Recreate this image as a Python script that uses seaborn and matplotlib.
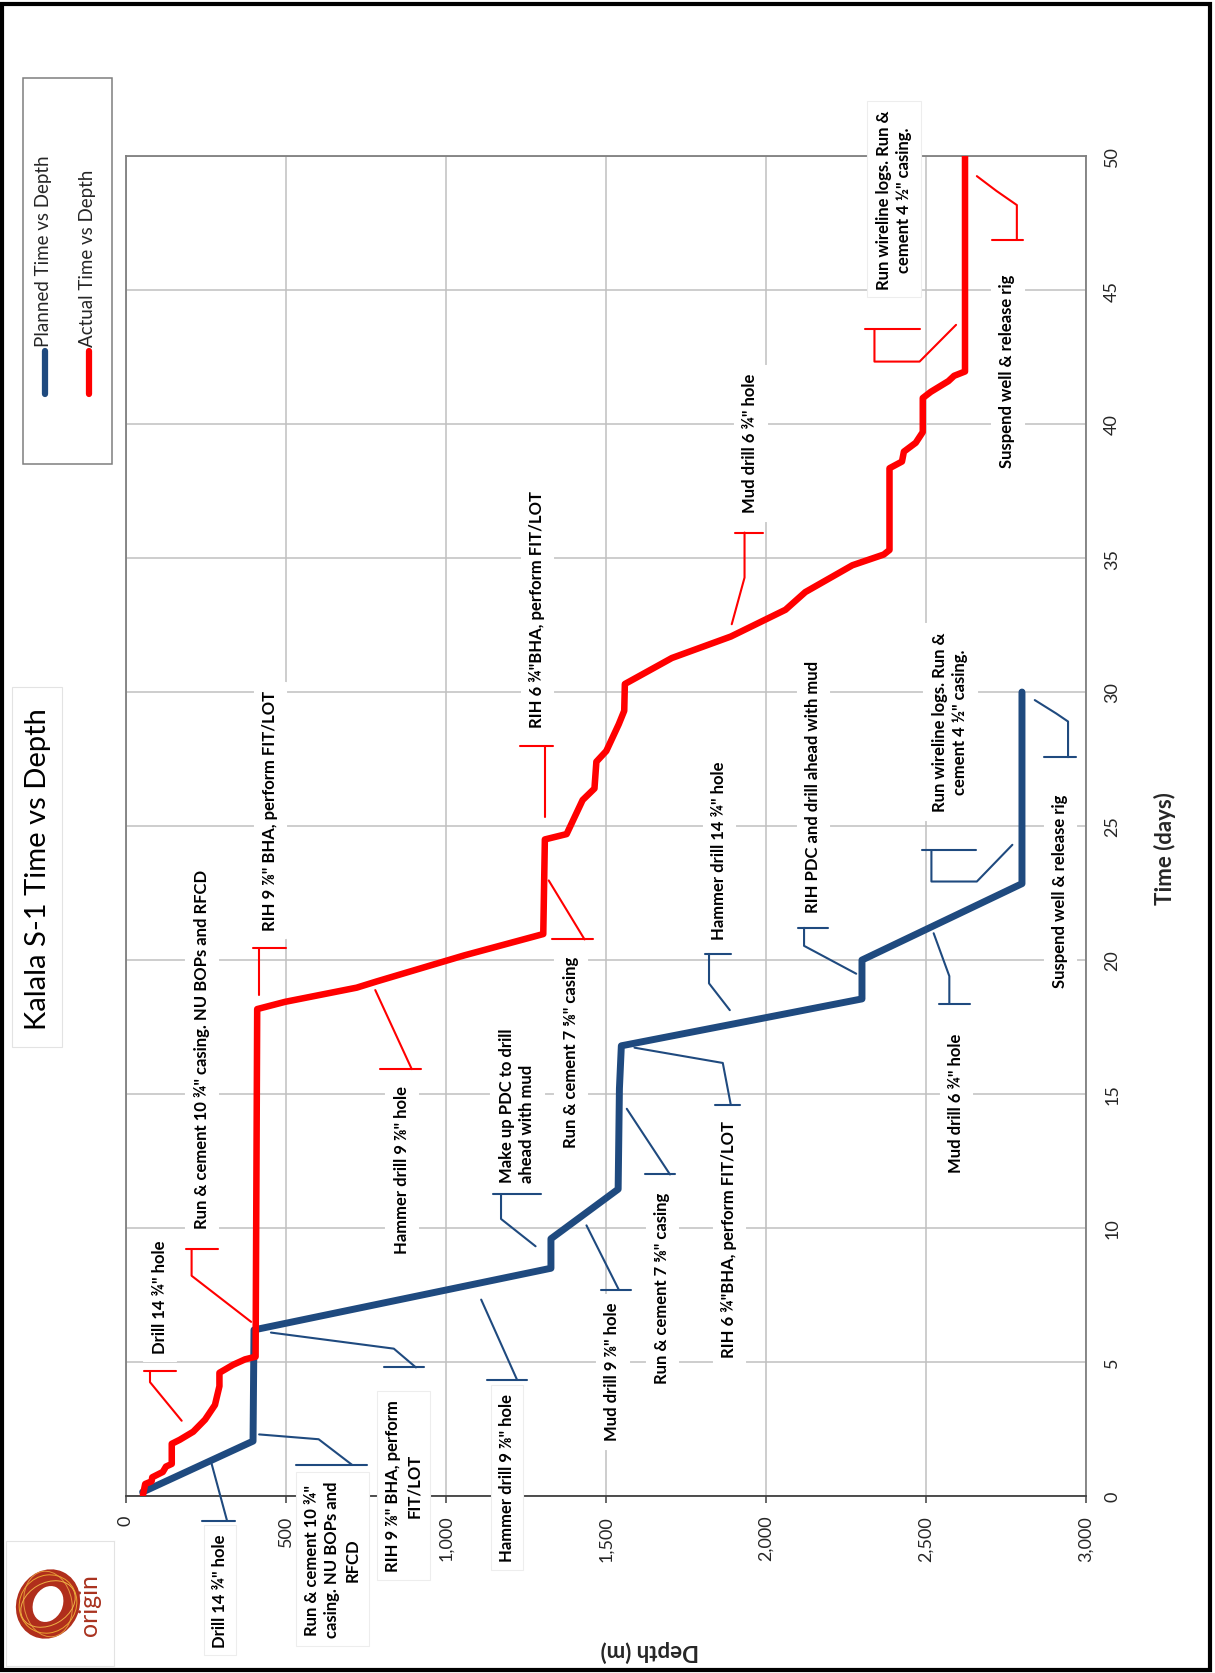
import numpy as np
import pandas as pd
import matplotlib
matplotlib.use("Agg")
import matplotlib.pyplot as plt
import seaborn as sns
from matplotlib.patches import Rectangle, Ellipse
from matplotlib.ticker import FuncFormatter

# ── Data ────────────────────────────────────────────────────────────────────
planned_time = [0.15, 2.05, 6.2, 8.5, 9.6, 11.45, 15.2, 16.8, 18.55, 20.0, 22.85, 30.0]
planned_depth = [52, 397, 400, 1328, 1328, 1538, 1542, 1548, 2300, 2300, 2800, 2800]

actual_time = [0.04, 0.45, 0.55, 0.7, 0.9, 1.1, 1.2, 1.95, 2.1, 2.4,
               2.85, 3.4, 4.1, 4.6, 4.9, 5.1, 5.2, 18.17, 18.44, 18.97,
               19.2, 20.17, 20.97, 24.5, 24.7, 25.97, 26.4, 27.4, 27.8, 28.8,
               29.3, 30.3, 31.27, 32.07, 33.07, 33.73, 34.73, 35.13, 35.3, 38.35,
               38.6, 38.97, 39.3, 39.7, 40.97, 41.2, 41.6, 41.8, 41.96, 50.0]
actual_depth = [53, 60, 80, 82, 115, 125, 143, 143, 168, 210,
                247, 278, 292, 292, 335, 372, 405, 410, 497, 721,
                783, 1056, 1304, 1309, 1377, 1427, 1464, 1470, 1501, 1540,
                1557, 1559, 1706, 1890, 2061, 2123, 2270, 2368, 2386, 2386,
                2425, 2431, 2468, 2490, 2490, 2515, 2570, 2588, 2622, 2622]

series_names = ["Planned Time vs Depth", "Actual Time vs Depth"]
depth_ticks = [0, 500, 1000, 1500, 2000, 2500, 3000]
time_ticks = [0, 5, 10, 15, 20, 25, 30, 35, 40, 45, 50]

actual_notes = [
    'Drill 14 ¾" hole',
    'Run & cement 10 ¾" casing. NU BOPs and RFCD',
    'RIH 9 ⅞" BHA, perform FIT/LOT',
    'Hammer drill 9 ⅞" hole',
    'Run & cement 7 ⅝" casing',
    'RIH 6 ¾"BHA, perform FIT/LOT',
    'Mud drill 6 ¾" hole',
    'Run wireline logs. Run &\ncement 4 ½" casing.',
    'Suspend well & release rig',
]
planned_notes = [
    'Drill 14 ¾" hole',
    'Run & cement 10 ¾"\ncasing. NU BOPs and\nRFCD',
    'RIH 9 ⅞" BHA, perform\nFIT/LOT',
    'Hammer drill 9 ⅞" hole',
    'Make up PDC to drill\nahead with mud',
    'Mud drill 9 ⅞" hole',
    'Run & cement 7 ⅝" casing',
    'RIH 6 ¾"BHA, perform FIT/LOT',
    'Hammer drill 14 ¾" hole',
    'RIH PDC and drill ahead with mud',
    'Run wireline logs. Run &\ncement 4 ½" casing.',
    'Suspend well & release rig',
    'Mud drill 6 ¾" hole',
]

# ── Callout layout (depth, time) ────────────────────────────────────────────
actual_layout = [
    ((105, 7.45), [(56, 155)], [(75, 4.66), (75, 4.25), (174, 2.81)], 4.66, "center"),
    ((237, 16.7), [(186, 289)], [(205, 9.2), (205, 8.22), (391, 6.5)], 9.2, "center"),
    ((450, 25.6), [(397, 499)], [(416, 20.44), (416, 18.7)], 20.44, "center"),
    ((862, 12.2), [(794, 921)], [(893, 15.93), (779, 18.88)], 15.93, "center"),
    ((1390, 16.6), [(1330, 1460)], [(1433, 20.77), (1321, 22.97)], 20.77, "center"),
    ((1284, 33.1), [(1231, 1334)], [(1309, 28.0), (1309, 25.33)], 28.0, "center"),
    ((1951, 39.3), [(1902, 1990)], [(1933, 35.95), (1933, 34.27), (1893, 32.53)], 35.95, "center"),
    ((2400, 48.4), [(2309, 2480)], [(2339, 43.53), (2339, 42.33), (2480, 42.33), (2594, 43.7)], 43.53, "center"),
    ((2754, 42.0), [(2705, 2803)], [(2784, 46.87), (2784, 48.17), (2720, 48.7), (2659, 49.25)], 46.87, "center"),
]
planned_layout = [
    ((294, -3.5), [(236, 341)], [(316, -0.93), (267, 1.23)], -0.93, "center"),
    ((645, -2.35), [(531, 754)], [(707, 1.16), (602, 2.12), (416, 2.3)], 1.16, "center"),
    ((868, 0.4), [(806, 931)], [(906, 4.8), (837, 5.5), (453, 6.1)], 4.8, "center"),
    ((1191, 0.7), [(1127, 1253)], [(1222, 4.34), (1110, 7.33)], 4.34, "center"),
    ((1222, 14.6), [(1148, 1297)], [(1172, 11.26), (1172, 10.34), (1280, 9.32)], 11.26, "left"),
    ((1520, 4.66), [(1485, 1577)], [(1540, 7.7), (1439, 10.1)], 7.7, "center"),
    ((1675, 7.8), [(1622, 1716)], [(1700, 12.0), (1565, 14.45)], 12.0, "center"),
    ((1884, 9.6), [(1840, 1920)], [(1890, 14.6), (1865, 16.16), (1589, 16.73)], 14.6, "center"),
    ((1853, 24.1), [(1810, 1890)], [(1822, 20.23), (1822, 19.13), (1887, 18.13)], 20.23, "center"),
    ((2147, 26.5), [(2100, 2194)], [(2119, 21.2), (2119, 20.53), (2282, 19.49)], 21.2, "center"),
    ((2575, 28.9), [(2488, 2656)], [(2517, 24.1), (2517, 22.93), (2659, 22.93), (2770, 24.3)], 24.1, "center"),
    ((2919, 22.6), [(2870, 2968)], [(2944, 27.57), (2944, 28.9), (2907, 29.2), (2840, 29.7)], 27.57, "center"),
    ((2594, 14.7), [(2542, 2637)], [(2573, 18.37), (2573, 19.4), (2524, 21.0)], 18.37, "center"),
]

BLUE = "#1F4A7F"
RED = "#FF0000"
GRID = "#C0C0C0"
FONT = ["Lato", "DejaVu Sans"]

sns.set_theme(style="whitegrid")
plt.rcParams["font.family"] = FONT

fig = plt.figure(figsize=(12.15, 16.74), dpi=100)
ax = fig.add_axes([0.1037, 0.1057, 0.7901, 0.8005])

plan_df = pd.DataFrame({"time": planned_time, "depth": planned_depth})
act_df = pd.DataFrame({"time": actual_time, "depth": actual_depth})

sns.lineplot(data=plan_df, x="depth", y="time", sort=False, estimator=None,
             color=BLUE, lw=5, ax=ax, zorder=3, solid_joinstyle="round",
             solid_capstyle="round")
sns.lineplot(data=act_df, x="depth", y="time", sort=False, estimator=None,
             color=RED, lw=4.7, ax=ax, zorder=3, solid_joinstyle="round",
             solid_capstyle="round")

ax.set_xlim(0, 3000)
ax.set_ylim(0, 50)
ax.set_xticks(depth_ticks)
ax.set_yticks(time_ticks)
ax.xaxis.set_major_formatter(FuncFormatter(lambda v, p: f"{int(v):,}"))
ax.grid(True, color=GRID, lw=1.1)
ax.set_axisbelow(True)
for s in ax.spines.values():
    s.set_color("#7F7F7F")
    s.set_linewidth(1.3)
ax.spines["bottom"].set_color("#404040")

ax.yaxis.tick_right()
ax.tick_params(axis="x", labelrotation=90, labelsize=13, length=5, width=1.1,
               color="#404040", pad=8.5, bottom=True)
ax.tick_params(axis="y", labelrotation=90, labelsize=13, length=0, pad=13)
for lab in ax.get_yticklabels():
    lab.set_va("center")
    lab.set_ha("left")

ax.set_xlabel("Depth (m)", fontsize=16, fontweight="bold", rotation=180)
ax.xaxis.set_label_coords(0.546, -0.107)
ax.set_ylabel("Time (days)", fontsize=16, fontweight="bold", rotation=90)
ax.yaxis.set_label_position("right")
ax.yaxis.set_label_coords(1.082, 0.484)
ax.yaxis.label.set_va("center")


def callout(pos, bar, path, ybar, text, color, ma="center"):
    x0, x1 = bar[0]
    ax.plot([x0, x1], [ybar, ybar], color=color, lw=1.5, clip_on=False, zorder=4)
    ax.plot([p[0] for p in path], [p[1] for p in path], color=color, lw=1.5,
            clip_on=False, zorder=4)
    # labels outside the plot area carry a faint frame, inner ones do not
    edge = "#EDEDED" if (pos[1] < 1 or pos[1] > 47) else "white"
    ax.text(pos[0], pos[1], text, rotation=90, ha="center", va="center",
            fontsize=12, fontweight="bold", multialignment=ma, linespacing=1.35,
            color="black", zorder=6, clip_on=False,
            bbox=dict(boxstyle="square,pad=0.5", facecolor="white",
                      edgecolor=edge, lw=0.8))


for txt, (pos, bar, path, ybar, ma) in zip(actual_notes, actual_layout):
    callout(pos, bar, path, ybar, txt, RED, ma)
for txt, (pos, bar, path, ybar, ma) in zip(planned_notes, planned_layout):
    callout(pos, bar, path, ybar, txt, BLUE, ma)

# ── Page furniture: title, legend, logo, border ─────────────────────────────
W, H = 1215, 1674


def fx(px):
    return px / W


def fy(py):
    return 1 - py / H


fig.patches.append(Rectangle((fx(12), fy(1048)), fx(50), (1048 - 688) / H,
                             transform=fig.transFigure, facecolor="white",
                             edgecolor="#E3E3E3", lw=0.8))
fig.text(fx(38), fy(869), "Kalala S-1 Time vs Depth", rotation=90,
         ha="center", va="center", fontsize=21, color="black")

fig.patches.append(Rectangle((fx(23), fy(465)), fx(89), (465 - 79) / H,
                             transform=fig.transFigure, facecolor="white",
                             edgecolor="#7F7F7F", lw=1.1))
for xpos, col, name in zip([45, 89], [BLUE, RED], series_names):
    fig.lines.append(plt.Line2D([fx(xpos), fx(xpos)], [fy(395), fy(352)],
                                transform=fig.transFigure, color=col, lw=4.5,
                                solid_capstyle="round"))
    fig.text(fx(xpos - 1), fy(347), name, rotation=90, ha="center",
             va="bottom", fontsize=13.5, color="#262626")

# logo
lax = fig.add_axes([fx(6), fy(1667), fx(108), 125 / H])
lax.set_xlim(0, 108)
lax.set_ylim(0, 125)
lax.set_xticks([])
lax.set_yticks([])
lax.grid(False)
for s in lax.spines.values():
    s.set_color("#E3E3E3")
    s.set_linewidth(0.8)
lax.add_patch(Ellipse((42, 62), 46, 54, angle=-25, fill=False,
                      edgecolor="#B02E1C", lw=12))
for w, h, a, c in [(56, 60, -40, "#F2B233"), (48, 66, 10, "#E9A040"),
                   (42, 58, -60, "#F4C04A")]:
    lax.add_patch(Ellipse((42, 62), w, h, angle=a, fill=False,
                          edgecolor=c, lw=0.7, alpha=0.9))
lax.text(84, 62, "origin", rotation=90, ha="center", va="center",
         fontsize=18, color="#A9321F")

fig.patches.append(Rectangle((0.002, 0.002), 0.994, 0.995,
                             transform=fig.transFigure, fill=False,
                             edgecolor="black", lw=3))

plt.savefig("out.png", dpi=100)
plt.close()
